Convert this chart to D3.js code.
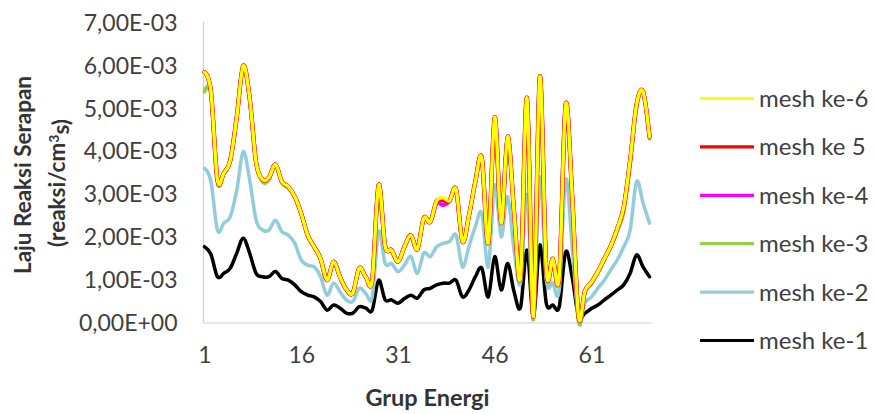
<!DOCTYPE html>
<html><head><meta charset="utf-8">
<script src="https://cdn.jsdelivr.net/npm/d3@7/dist/d3.min.js"></script>
<style>body{margin:0;background:#fff}svg{display:block}</style>
</head><body><svg id="c" width="875" height="414"></svg>
<script>
// Energy groups (categories)
const groups = [1,2,3,4,5,6,7,8,9,10,11,12,13,14,15,16,17,18,19,20,21,22,23,24,25,26,27,28,29,30,31,32,33,34,35,36,37,38,39,40,41,42,43,44,45,46,47,48,49,50,51,52,53,54,55,56,57,58,59,60,61,62,63,64,65,66,67,68,69,70];

// Absorption reaction rate, values in units of 1E-03 reaksi/cm3s
const mesh6 = [5.85,5.4,3.35,3.5,3.8,4.8,6.0,5.25,3.75,3.35, 3.4,3.7,3.3,3.18,2.95,2.55,2.05,1.78,1.5,1.0, 1.43,1.08,0.78,0.7,1.28,1.08,1.0,3.22,1.8,1.7, 1.43,1.78,2.05,1.72,2.45,2.36,2.85,2.92,2.85,3.12, 1.9,2.5,3.3,3.85,1.87,4.8,2.33,4.35,2.6,1.08, 5.25,0.15,5.75,1.24,1.5,1.08,5.1,3.0,0.15,0.75, 0.95,1.2,1.5,1.8,2.2,2.7,3.8,5.1,5.4,4.35];
const mesh5 = [5.85,5.4,3.35,3.5,3.8,4.8,6.0,5.25,3.75,3.35, 3.4,3.7,3.3,3.18,2.95,2.55,2.05,1.78,1.5,1.0, 1.43,1.08,0.78,0.7,1.28,1.08,1.0,3.22,1.8,1.7, 1.43,1.78,2.05,1.72,2.45,2.36,2.85,2.87,2.85,3.12, 1.9,2.5,3.3,3.85,1.87,4.8,2.33,4.35,2.6,1.08, 5.25,0.15,5.75,1.24,1.5,1.08,5.1,3.0,0.15,0.75, 0.95,1.2,1.5,1.8,2.2,2.7,3.8,5.1,5.4,4.35];
const mesh4 = [5.85,5.4,3.35,3.5,3.8,4.8,6.0,5.25,3.75,3.35, 3.4,3.7,3.3,3.18,2.95,2.55,2.05,1.78,1.5,1.0, 1.43,1.08,0.78,0.7,1.28,1.08,1.0,3.22,1.8,1.7, 1.43,1.78,2.05,1.72,2.45,2.36,2.8,2.75,2.85,3.12, 1.9,2.5,3.3,3.85,1.87,4.8,2.33,4.35,2.6,1.08, 5.25,0.15,5.75,1.24,1.5,1.08,5.1,3.0,0.15,0.75, 0.95,1.2,1.5,1.8,2.2,2.7,3.8,5.1,5.4,4.35];
const mesh3 = [5.4,5.35,3.3,3.5,3.8,4.8,6.0,5.25,3.75,3.3, 3.35,3.7,3.28,3.15,2.95,2.55,2.05,1.78,1.5,1.0, 1.43,1.08,0.78,0.7,1.28,1.08,1.0,3.22,1.8,1.7, 1.43,1.78,2.05,1.72,2.45,2.36,2.82,2.9,2.85,3.12, 1.9,2.5,3.3,3.85,1.87,4.8,2.33,4.35,2.6,1.08, 5.25,0.08,5.75,1.2,1.45,1.05,5.1,3.0,0.05,0.72, 0.92,1.18,1.48,1.78,2.15,2.6,3.7,5.05,5.38,4.3];
const mesh2 = [3.61,3.3,2.17,2.33,2.48,3.1,4.0,3.34,2.4,2.17, 2.17,2.4,2.13,2.05,1.86,1.47,1.35,1.31,1.08,0.65, 0.93,0.73,0.54,0.5,0.81,0.69,0.61,2.13,1.39,1.39, 1.2,1.35,1.55,1.16,1.63,1.55,1.78,1.86,1.9,2.05, 1.31,1.78,2.25,2.56,1.31,3.22,2.01,2.95,1.7,0.93, 3.0,0.25,3.4,1.0,0.93,0.77,3.35,1.8,0.1,0.47, 0.61,0.81,1.0,1.24,1.47,1.78,2.17,3.3,2.8,2.33];
const mesh1 = [1.78,1.6,1.08,1.16,1.28,1.63,1.98,1.63,1.16,1.08, 1.08,1.2,1.04,1.0,0.89,0.73,0.65,0.61,0.5,0.3, 0.42,0.35,0.23,0.23,0.38,0.35,0.3,1.0,0.54,0.54, 0.46,0.57,0.65,0.58,0.77,0.81,0.89,0.93,0.93,1.0, 0.61,0.77,1.08,1.28,0.61,1.55,0.77,1.39,0.73,0.36, 1.7,0.15,1.82,0.46,0.42,0.38,1.66,1.08,0.15,0.23, 0.34,0.42,0.54,0.65,0.77,0.89,1.16,1.59,1.31,1.08];

const seriesNames  = ["mesh ke-6","mesh ke 5","mesh ke-4","mesh ke-3","mesh ke-2","mesh ke-1"];
const seriesValues = [mesh6, mesh5, mesh4, mesh3, mesh2, mesh1];
const seriesColors = ["#FFFF00","#FF0000","#FF00FF","#92D050","#92CDDC","#000000"];

const xTicks = [1,16,31,46,61];
const yTicks = [0,1,2,3,4,5,6,7];
const yTickLabels = ["0,00E+00","1,00E-03","2,00E-03","3,00E-03","4,00E-03","5,00E-03","6,00E-03","7,00E-03"];

const xTitle = "Grup Energi";
const yTitle1 = "Laju Reaksi Serapan";

const svg = d3.select("#c");
const FONT = "Lato, 'Open Sans', sans-serif";
const L = 203.5, R = 651.5, T = 23, B = 323;

const x = d3.scaleLinear().domain([1, 70]).range([204.5, 649.5]);
const y = d3.scaleLinear().domain([0, 7]).range([B, T]);

// axes
const yAxis = svg.append("g").attr("transform", `translate(${L},0)`)
  .call(d3.axisLeft(y).tickValues(yTicks).tickFormat((d,i)=>yTickLabels[i]).tickSize(0).tickPadding(26));
const xAxis = svg.append("g").attr("transform", `translate(0,${B})`)
  .call(d3.axisBottom(x).tickValues(xTicks).tickFormat(d=>String(d)).tickSize(0).tickPadding(24));
[yAxis, xAxis].forEach(g=>{
  g.selectAll("path.domain").remove();
  g.selectAll("text").attr("font-family", FONT).attr("font-size", 23).attr("fill", "#404040");
});
svg.append("line").attr("x1",L).attr("x2",L).attr("y1",T-1).attr("y2",B).attr("stroke","#d0d0d0").attr("stroke-width",1.2);
svg.append("line").attr("x1",L).attr("x2",R).attr("y1",B).attr("y2",B).attr("stroke","#d0d0d0").attr("stroke-width",1.2);

// series lines (drawn bottom to top: mesh ke-1 first, mesh ke-6 last)
const line = d3.line().x((d,i)=>x(groups[i])).y(d=>y(d)).curve(d3.curveCardinal.tension(0));
const widths = [3.4, 4.3, 4, 4, 3.5, 3.5];
for (let k = seriesValues.length - 1; k >= 0; k--) {
  svg.append("path").datum(seriesValues[k]).attr("d", line)
    .attr("fill","none").attr("stroke", seriesColors[k]).attr("stroke-width", widths[k])
    .attr("stroke-linejoin","round").attr("stroke-linecap","round");
}

// legend
seriesNames.forEach((name, i) => {
  const yy = 98.5 + i * 48.4;
  svg.append("line").attr("x1",700).attr("x2",754).attr("y1",yy).attr("y2",yy)
    .attr("stroke", seriesColors[i]).attr("stroke-width",3.2);
  svg.append("text").attr("x",759).attr("y",yy).attr("dy","0.35em")
    .attr("font-family",FONT).attr("font-size",24).attr("fill","#404040").text(name);
});

// titles
svg.append("text").attr("x",(L+R)/2).attr("y",398).attr("dy","0.35em").attr("text-anchor","middle")
  .attr("font-family",FONT).attr("font-weight","bold").attr("font-size",23.5).attr("fill","#333").text(xTitle);
const yt = svg.append("g").attr("transform","translate(0,175) rotate(-90)");
yt.append("text").attr("x",0).attr("y",23).attr("dy","0.35em").attr("text-anchor","middle")
  .attr("font-family",FONT).attr("font-weight","bold").attr("font-size",22.5).attr("fill","#333").text(yTitle1);
const t2 = yt.append("text").attr("x",-8).attr("y",57).attr("dy","0.35em").attr("text-anchor","middle")
  .attr("font-family",FONT).attr("font-weight","bold").attr("font-size",22.5).attr("fill","#333");
t2.append("tspan").text("(reaksi/cm");
t2.append("tspan").attr("dy","-0.45em").attr("font-size",14).text("3");
t2.append("tspan").attr("dy","0.45em").text("s)");
</script></body></html>
